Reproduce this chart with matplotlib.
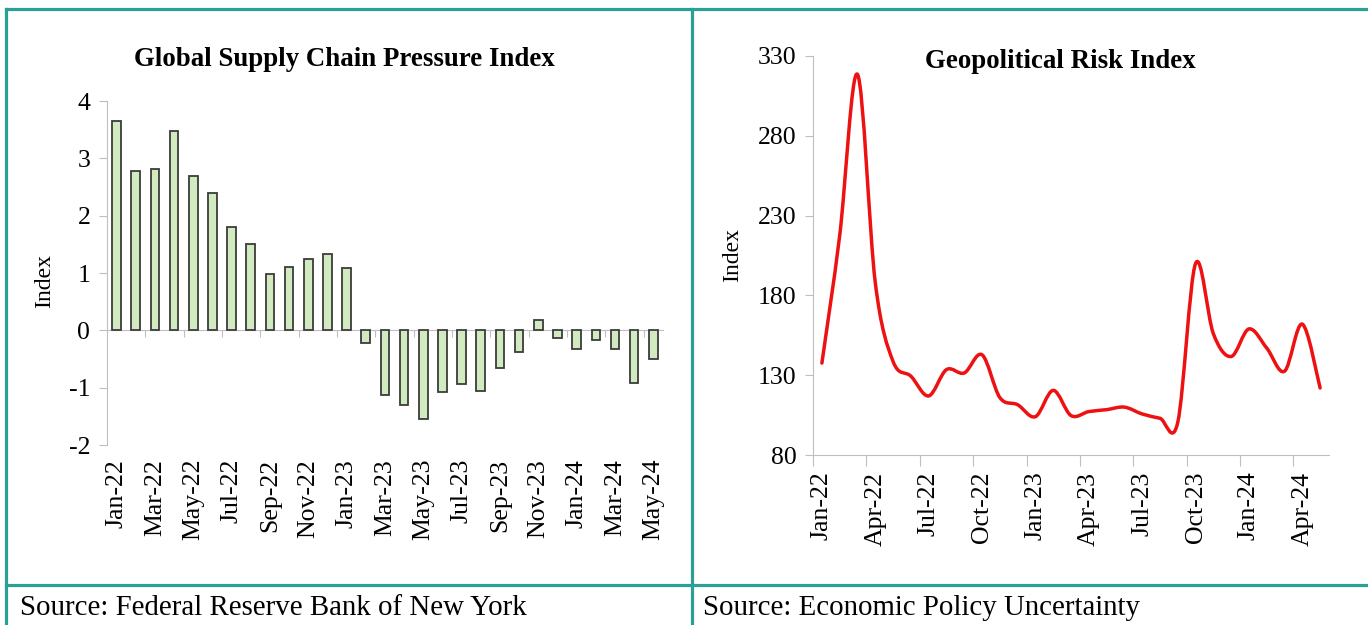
import numpy as np
import matplotlib
matplotlib.use('Agg')
import matplotlib.pyplot as plt
from matplotlib.path import Path
from matplotlib.patches import PathPatch
from matplotlib.lines import Line2D

plt.rcParams['font.family'] = ['Liberation Serif', 'DejaVu Serif']
plt.rcParams['axes.unicode_minus'] = False

# data, monthly Jan-22 .. May-24
months = ['Jan-22', 'Feb-22', 'Mar-22', 'Apr-22', 'May-22', 'Jun-22', 'Jul-22', 'Aug-22',
          'Sep-22', 'Oct-22', 'Nov-22', 'Dec-22', 'Jan-23', 'Feb-23', 'Mar-23', 'Apr-23',
          'May-23', 'Jun-23', 'Jul-23', 'Aug-23', 'Sep-23', 'Oct-23', 'Nov-23', 'Dec-23',
          'Jan-24', 'Feb-24', 'Mar-24', 'Apr-24', 'May-24']
gscpi = [3.65, 2.78, 2.82, 3.48, 2.70, 2.40, 1.80, 1.50, 0.98, 1.10, 1.25, 1.33, 1.08,
         -0.22, -1.12, -1.30, -1.55, -1.08, -0.93, -1.05, -0.65, -0.37, 0.18, -0.13,
         -0.33, -0.17, -0.32, -0.92, -0.50]
gpr = [137.6, 217.5, 318.5, 188.0, 138.6, 129.4, 117.0, 133.5, 131.4, 142.8, 116.0, 111.5,
       104.0, 120.5, 104.7, 107.2, 108.4, 110.0, 105.7, 103.0, 100.5, 200.0, 156.0, 141.7,
       159.0, 147.0, 132.5, 162.0, 122.0]

GRAY = '#bfbfbf'
TEAL = '#2a9f95'
TICK_FS = 18.5

fig = plt.figure(figsize=(13.68, 6.25), dpi=100)
x = np.arange(len(months))

# ---- left: supply chain pressure bars
ax1 = fig.add_axes([0.0782, 0.288, 0.4064, 0.5504])
ax1.bar(x, gscpi, width=0.45, color='#d2eabf', edgecolor='#3c3c3c', linewidth=1.3, zorder=3)
ax1.set_xlim(-0.5, 28.5)
ax1.set_ylim(-2, 4)
for s in ['top', 'right']:
    ax1.spines[s].set_visible(False)
ax1.spines['left'].set_color(GRAY)
ax1.spines['bottom'].set_color(GRAY)
ax1.spines['bottom'].set_position(('data', 0))
ax1.set_yticks(range(-2, 5))
ax1.set_xticks(np.arange(1.5, 28.5, 2))
ax1.tick_params(axis='x', length=5, color=GRAY, labelbottom=False)
ax1.tick_params(axis='y', length=6, color=GRAY, labelsize=TICK_FS, pad=6)
sec = ax1.secondary_xaxis('bottom')
sec.set_xticks(x[::2], labels=months[::2], rotation=90)
sec.tick_params(length=0, pad=10, labelsize=TICK_FS)
sec.spines['bottom'].set_visible(False)

# ---- right: geopolitical risk smooth line
ax2 = fig.add_axes([0.5943, 0.272, 0.3772, 0.6384])
pts = np.column_stack([x, gpr]).astype(float)
ext = np.vstack([pts[0], pts, pts[-1]])
verts = [pts[0]]
codes = [Path.MOVETO]
for i in range(len(pts) - 1):
    p0, p1, p2, p3 = ext[i], ext[i + 1], ext[i + 2], ext[i + 3]
    verts += [p1 + (p2 - p0) / 6, p2 - (p3 - p1) / 6, p2]
    codes += [Path.CURVE4] * 3
ax2.add_patch(PathPatch(Path(verts, codes), facecolor='none', edgecolor='#ee1111',
                        linewidth=2.5, capstyle='round', joinstyle='round'))
ax2.set_xlim(-0.5, 28.5)
ax2.set_ylim(80, 330)
for s in ['top', 'right']:
    ax2.spines[s].set_visible(False)
ax2.spines['left'].set_color(GRAY)
ax2.spines['bottom'].set_color(GRAY)
ax2.set_yticks(range(80, 331, 50))
ax2.set_xticks(np.arange(-0.5, 28.5, 3))
ax2.set_xticks(x[::3], labels=months[::3], minor=True)
ax2.tick_params(axis='x', which='major', length=8, color=GRAY, labelbottom=False)
ax2.tick_params(axis='x', which='minor', length=0, pad=12, labelsize=TICK_FS, rotation=90)
ax2.tick_params(axis='y', length=6, color=GRAY, labelsize=TICK_FS, pad=6)

# titles, labels, sources
fig.text(0.252, 0.904, 'Global Supply Chain Pressure Index', ha='center', va='center',
         fontsize=19.4, fontweight='bold')
fig.text(0.775, 0.901, 'Geopolitical Risk Index', ha='center', va='center',
         fontsize=19.4, fontweight='bold')
fig.text(45 / 1368, 1 - 281 / 625, 'Index', rotation=90, ha='center', va='center', fontsize=17)
fig.text(733 / 1368, 1 - 255 / 625, 'Index', rotation=90, ha='center', va='center', fontsize=17)
fig.text(20 / 1368, 1 - 608 / 625, 'Source: Federal Reserve Bank of New York',
         va='center', fontsize=20.8)
fig.text(703 / 1368, 1 - 608 / 625, 'Source: Economic Policy Uncertainty',
         va='center', fontsize=20.8)

# teal panel frame
top = 1 - 9 / 625
sep = 1 - 585 / 625
for xs, ys in [([6 / 1368, 1], [top, top]), ([6 / 1368, 6 / 1368], [0, top]),
               ([692 / 1368, 692 / 1368], [0, top]), ([6 / 1368, 1], [sep, sep])]:
    fig.add_artist(Line2D(xs, ys, color=TEAL, linewidth=2.3, transform=fig.transFigure))

fig.savefig('out.png', dpi=100)
